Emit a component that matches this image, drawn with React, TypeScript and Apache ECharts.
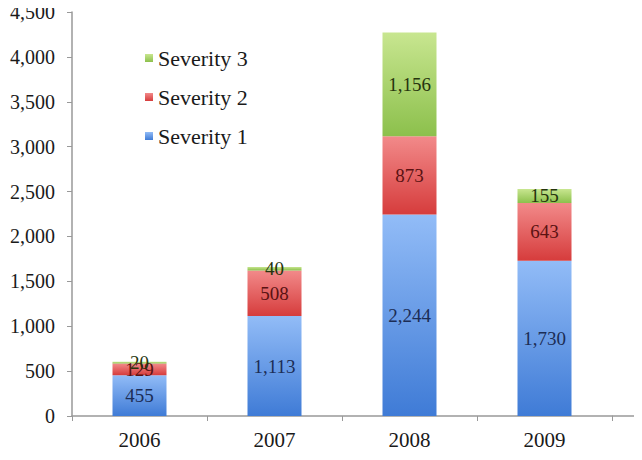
import React, { useEffect, useRef } from "react";
import * as echarts from "echarts";

const years = ["2006", "2007", "2008", "2009"];
const severity1 = [455, 1113, 2244, 1730];
const severity2 = [129, 508, 873, 643];
const severity3 = [20, 40, 1156, 155];
const yTicks = { min: 0, max: 4500, interval: 500 };

const FONT = "'Liberation Serif', 'DejaVu Serif', serif";

const grad = (top: string, bottom: string) =>
  new echarts.graphic.LinearGradient(0, 0, 0, 1, [
    { offset: 0, color: top },
    { offset: 1, color: bottom },
  ]);

export default function App() {
  const ref = useRef<HTMLDivElement>(null);
  useEffect(() => {
    if (!ref.current) return;
    const chart = echarts.init(ref.current, undefined, { renderer: "svg" });
    const fmt = (v: number) => v.toLocaleString("en-US");
    const labelOf = (color: string) => ({
      show: true,
      position: "inside" as const,
      fontFamily: FONT,
      fontSize: 19,
      color,
      formatter: (p: any) => fmt(p.value),
    });
    chart.setOption({
      animation: false,
      backgroundColor: "#ffffff",
      grid: { left: 72, right: 30, top: 12, bottom: 44 },
      legend: {
        orient: "vertical",
        left: 140,
        top: 42,
        itemWidth: 8,
        itemHeight: 8,
        itemGap: 17,
        icon: "rect",
        data: ["Severity 3", "Severity 2", "Severity 1"],
        textStyle: { fontFamily: FONT, fontSize: 22, color: "#1a1a1a", lineHeight: 22 },
      },
      xAxis: {
        type: "category",
        data: years,
        axisLine: { lineStyle: { color: "#999", width: 1.5 } },
        axisTick: { show: true, interval: 0, length: 5, lineStyle: { color: "#999" } },
        axisLabel: { fontFamily: FONT, fontSize: 21, color: "#1a1a1a", margin: 13 },
      },
      yAxis: {
        type: "value",
        min: yTicks.min,
        max: yTicks.max,
        interval: yTicks.interval,
        axisLine: { show: true, lineStyle: { color: "#999", width: 1.5 } },
        axisTick: { show: true, length: 5, lineStyle: { color: "#999" } },
        splitLine: { show: false },
        axisLabel: {
          fontFamily: FONT,
          fontSize: 20,
          color: "#1a1a1a",
          margin: 17,
          formatter: (v: number) => fmt(v),
        },
      },
      graphic: [
        {
          type: "line",
          shape: { x1: 612, y1: 416, x2: 642, y2: 416 },
          style: { stroke: "#999", lineWidth: 1.5 },
        },
      ],
      series: [
        {
          name: "Severity 1",
          type: "bar",
          stack: "s",
          barWidth: 54,
          data: severity1,
          itemStyle: { color: grad("#92bcf7", "#3f7bd6") },
          label: labelOf("#1c2d55"),
        },
        {
          name: "Severity 2",
          type: "bar",
          stack: "s",
          barWidth: 54,
          data: severity2,
          itemStyle: { color: grad("#f28a8a", "#d63c3c") },
          label: labelOf("#5a1212"),
        },
        {
          name: "Severity 3",
          type: "bar",
          stack: "s",
          barWidth: 54,
          data: severity3,
          itemStyle: { color: grad("#c8e690", "#8cc04c") },
          label: labelOf("#26340e"),
        },
      ],
    });
    return () => chart.dispose();
  }, []);
  return <div ref={ref} style={{ width: 642, height: 460, margin: -8 }} />;
}
